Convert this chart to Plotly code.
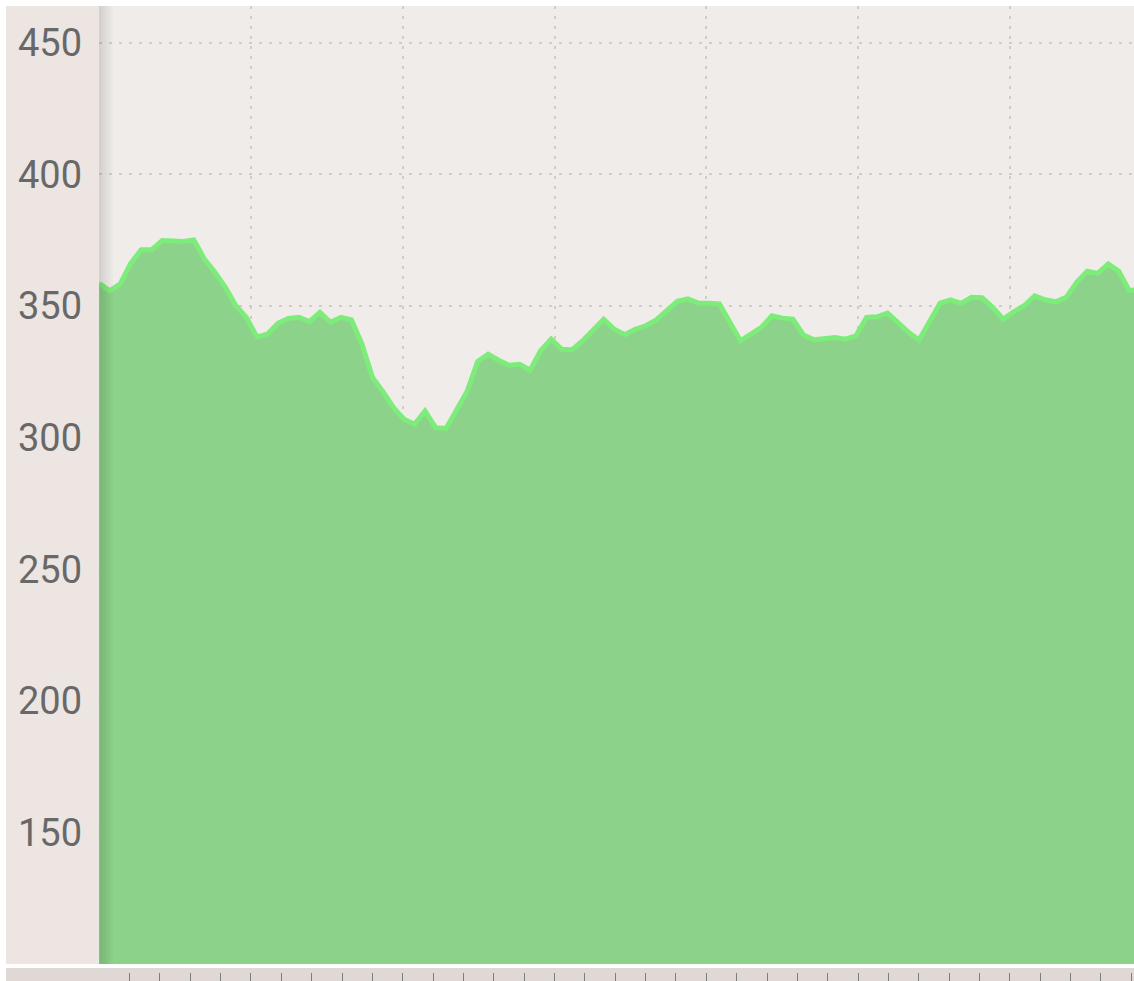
import plotly.graph_objects as go

# ---- data ----
values = [
    358.6, 355.8, 358.4, 366.2, 371.4, 371.4, 374.9, 374.9, 374.5, 375.1,
    367.9, 362.8, 357.1, 350.1, 345.7, 338.3, 339.3, 343.4, 345.3, 345.7,
    344.1, 347.6, 343.8, 345.7, 344.7, 335.5, 322.8, 317.5, 311.4, 307.0,
    305.1, 310.1, 303.8, 303.5, 310.1, 317.5, 328.9, 331.7, 329.4, 327.5,
    327.9, 325.6, 333.0, 337.4, 333.6, 333.4, 336.8, 340.6, 345.0, 341.2,
    339.1, 341.2, 342.5, 344.7, 348.2, 351.8, 352.7, 351.1, 351.1, 350.8,
    343.8, 336.8, 339.3, 341.9, 346.3, 345.4, 345.0, 339.0, 337.2, 337.4,
    338.0, 337.4, 338.7, 345.7, 345.9, 347.3, 343.5, 340.0, 337.1, 344.1,
    351.1, 352.3, 351.0, 353.3, 353.2, 349.5, 345.0, 347.8, 350.1, 353.9,
    352.4, 351.6, 353.3, 359.0, 363.2, 362.4, 366.0, 363.2, 355.8, 356.5,
]
x_index = list(range(len(values)))
y_tickvals = [150, 200, 250, 300, 350, 400, 450]
y_range = [100, 464]
x_range = [-0.02, 98.45]
grid_step = 14.44
tick_step = 2.888

# ---- styling ----
W, H = 1134, 981
L, T = 99, 6
plot_bottom_px = 964
PLOT_BG = "rgb(240,236,233)"
PANEL_BG = "rgb(237,229,226)"
STRIP_BG = "rgb(224,216,212)"
FILL = "rgb(140,210,138)"
LINE = "rgb(126,236,122)"
GRID = "rgb(210,204,201)"

fig = go.Figure()
fig.add_trace(go.Scatter(
    x=x_index, y=values, mode="lines",
    line=dict(color=LINE, width=5),
    fill="tozeroy", fillcolor=FILL,
    hoverinfo="skip", showlegend=False,
))
# empty trace so the tick-strip axis gets drawn
fig.add_trace(go.Scatter(x=[], y=[], xaxis="x2", yaxis="y",
                         mode="lines", hoverinfo="skip", showlegend=False))

pw = W - L
ph_total = H - T
px2paperx = lambda p: (p - L) / pw
py2papery = lambda p: (H - p) / ph_total

shapes = []
# left y-axis panel
shapes.append(dict(type="rect", xref="paper", yref="paper",
                   x0=px2paperx(6), x1=0, y0=py2papery(plot_bottom_px), y1=1,
                   fillcolor=PANEL_BG, line_width=0, layer="below"))
# bottom strip
shapes.append(dict(type="rect", xref="paper", yref="paper",
                   x0=px2paperx(6), x1=1, y0=0, y1=py2papery(968),
                   fillcolor=STRIP_BG, line_width=0, layer="below"))
# left edge shadow (soft gradient)
for i in range(7):
    shapes.append(dict(type="rect", xref="paper", yref="paper",
                       x0=px2paperx(L), x1=px2paperx(L + 2 * (i + 1)),
                       y0=py2papery(plot_bottom_px), y1=1,
                       fillcolor="rgba(0,0,0,0.016)", line_width=0, layer="above"))

fig.update_layout(
    width=W, height=H,
    margin=dict(l=L, r=0, t=T, b=0, pad=0),
    paper_bgcolor="white",
    plot_bgcolor=PLOT_BG,
    shapes=shapes,
    showlegend=False,
    font=dict(family="Roboto", color="rgb(104,104,104)"),
    xaxis=dict(range=x_range, showticklabels=False, ticks="",
               tick0=0, dtick=grid_step,
               showgrid=True, gridcolor=GRID, griddash="3px,7px", gridwidth=1.5,
               zeroline=False, showline=False, fixedrange=True),
    xaxis2=dict(overlaying="x", matches="x", anchor="free", position=0,
                range=x_range, showticklabels=False, ticks="inside", ticklen=8,
                tickwidth=1.2, tickcolor="rgb(125,125,125)",
                tick0=0, dtick=tick_step, showgrid=False, zeroline=False,
                showline=False, fixedrange=True),
    yaxis=dict(range=y_range, domain=[(H - plot_bottom_px) / ph_total, 1],
               tickmode="array", tickvals=y_tickvals,
               ticks="", ticklabelstandoff=16,
               tickfont=dict(family="Roboto", size=38, color="rgb(104,104,104)"),
               showgrid=True, gridcolor=GRID, griddash="3px,7px", gridwidth=1.5,
               zeroline=False, showline=False, fixedrange=True),
)

fig.write_html("out.html", config={"displayModeBar": False},
               post_script="document.body.style.margin='0';")
